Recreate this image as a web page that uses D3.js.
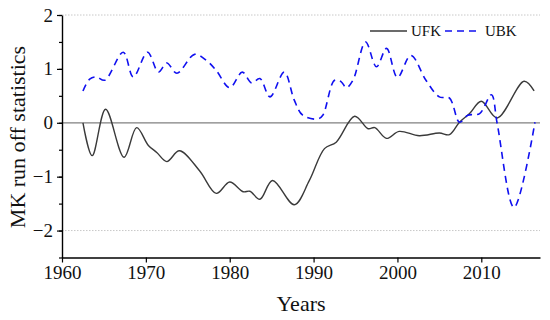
<!DOCTYPE html>
<html>
<head>
<meta charset="utf-8">
<script src="https://cdn.jsdelivr.net/npm/d3@7"></script>
<style>
  body { margin: 0; background: #fff; }
  text { font-family: "Liberation Serif", "DejaVu Serif", serif; }
</style>
</head>
<body>
<svg width="550" height="320"></svg>
<script>
// UFK (forward) values
const ufkYears  = [1962.5, 1963.6, 1965.2, 1967.4, 1968.9, 1970.3, 1971.3, 1972.5, 1974.0, 1976.4, 1978.4, 1980.0, 1981.6, 1982.4, 1983.6, 1985.1, 1987.7, 1989.5, 1991.3, 1992.7, 1994.9, 1996.5, 1997.3, 1998.7, 2000.2, 2002.6, 2005.0, 2006.2, 2007.4, 2008.6, 2010.0, 2011.9, 2015.1, 2016.3];
const ufkValues = [0, -0.61, 0.25, -0.64, -0.09, -0.42, -0.55, -0.72, -0.52, -0.89, -1.31, -1.1, -1.28, -1.27, -1.42, -1.07, -1.52, -1.07, -0.48, -0.36, 0.12, -0.11, -0.09, -0.29, -0.16, -0.24, -0.19, -0.22, 0.01, 0.17, 0.40, 0.09, 0.77, 0.59];

// UBK (backward) values
const ubkYears  = [1962.5, 1963.3, 1964.1, 1965.1, 1967.3, 1968.5, 1970.2, 1971.5, 1972.5, 1973.7, 1975.8, 1977.2, 1978.4, 1980.0, 1981.5, 1982.6, 1983.6, 1984.8, 1986.5, 1987.7, 1988.7, 1990.5, 1991.1, 1992.5, 1993.3, 1993.9, 1994.7, 1996.2, 1997.5, 1998.7, 2000.0, 2001.6, 2003.4, 2005.0, 2006.2, 2007.4, 2008.4, 2009.8, 2011.2, 2011.9, 2013.9, 2016.4];
const ubkValues = [0.59, 0.81, 0.85, 0.79, 1.31, 0.85, 1.31, 0.94, 1.11, 0.92, 1.27, 1.16, 0.97, 0.65, 0.94, 0.74, 0.82, 0.48, 0.94, 0.42, 0.14, 0.07, 0.14, 0.79, 0.76, 0.65, 0.79, 1.50, 1.04, 1.38, 0.84, 1.25, 0.79, 0.48, 0.46, 0.01, 0.14, 0.17, 0.52, -0.02, -1.57, 0.01];

const xTicks = [1960, 1970, 1980, 1990, 2000, 2010];
const yTicks = [-2, -1, 0, 1, 2];
const yMinorTicks = [-2.5, -2, -1.5, -1, -0.5, 0, 0.5, 1, 1.5, 2];
const seriesNames = ["UFK", "UBK"];

const svg = d3.select("svg");
const x = d3.scaleLinear().domain([1960, 2017]).range([62, 540]);
const y = d3.scaleLinear().domain([-2.5, 2]).range([257.5, 15]);

// dotted lines at +/-2 and the zero line
svg.selectAll(".grid")
    .data([-2, 2])
    .enter().append("line")
    .attr("x1", x(1960)).attr("x2", x(2017))
    .attr("y1", d => y(d)).attr("y2", d => y(d))
    .attr("stroke", "#c8c8c8")
    .attr("stroke-dasharray", "1.5,1.5");

svg.append("line")
    .attr("x1", x(1960)).attr("x2", x(2017))
    .attr("y1", y(0)).attr("y2", y(0))
    .attr("stroke", "#808080")
    .attr("stroke-width", 1.2);

const line = d3.line()
    .x(d => x(d[0]))
    .y(d => y(d[1]))
    .curve(d3.curveCatmullRom.alpha(0.5));

svg.append("path")
    .attr("d", line(d3.zip(ufkYears, ufkValues)))
    .attr("fill", "none")
    .attr("stroke", "#3a3a3a")
    .attr("stroke-width", 1.4);

svg.append("path")
    .attr("d", line(d3.zip(ubkYears, ubkValues)))
    .attr("fill", "none")
    .attr("stroke", "#1010f0")
    .attr("stroke-width", 1.6)
    .attr("stroke-dasharray", "7,5");

// axes
svg.append("g")
    .attr("transform", `translate(0,${y(-2.5)})`)
    .call(d3.axisBottom(x).tickValues(xTicks).tickFormat(d3.format("d")).tickSize(5).tickPadding(3).tickSizeOuter(0));

svg.append("g")
    .attr("transform", `translate(${x(1960)},0)`)
    .call(d3.axisLeft(y).tickValues(yMinorTicks).tickFormat("").tickSize(3).tickSizeOuter(0))
    .select(".domain").remove();

svg.append("g")
    .attr("transform", `translate(${x(1960)},0)`)
    .call(d3.axisLeft(y).tickValues(yTicks).tickFormat(d => d < 0 ? "\u2212" + Math.abs(d) : d).tickSize(5).tickPadding(4).tickSizeOuter(0));

svg.selectAll(".domain").attr("stroke", "#000").attr("stroke-width", 1.4);
svg.selectAll(".tick line").attr("stroke", "#000").attr("stroke-width", 1.2);
svg.selectAll(".tick text").attr("font-family", "Liberation Serif").attr("font-size", 19).attr("fill", "#111");

svg.append("text")
    .attr("x", (x(1960) + x(2017)) / 2)
    .attr("y", 311)
    .attr("text-anchor", "middle")
    .attr("font-size", 22)
    .attr("fill", "#111")
    .text("Years");

svg.append("text")
    .attr("transform", "translate(25,137) rotate(-90)")
    .attr("text-anchor", "middle")
    .attr("font-size", 22)
    .attr("fill", "#111")
    .text("MK run off statistics");

// legend
const legend = svg.append("g");
const legendX = [370, 445];
const legendTextX = [411, 485];
legend.selectAll("line")
    .data(seriesNames)
    .enter().append("line")
    .attr("x1", (d, i) => legendX[i])
    .attr("x2", (d, i) => legendX[i] + (i === 0 ? 37 : 32))
    .attr("y1", 31).attr("y2", 31)
    .attr("stroke", (d, i) => i === 0 ? "#3a3a3a" : "#1010f0")
    .attr("stroke-width", (d, i) => i === 0 ? 1.4 : 1.6)
    .attr("stroke-dasharray", (d, i) => i === 0 ? null : "7,5");
legend.selectAll("text")
    .data(seriesNames)
    .enter().append("text")
    .attr("x", (d, i) => legendTextX[i])
    .attr("y", 36)
    .attr("font-size", 15)
    .attr("fill", "#111")
    .text(d => d);
</script>
</body>
</html>
